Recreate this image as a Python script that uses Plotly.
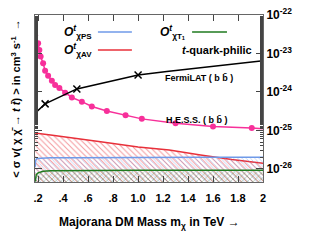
import plotly.graph_objects as go

# data
mass_av = [0.176, 0.19, 0.3, 0.5, 0.7, 1.0, 1.25, 1.5, 1.75, 2.0]
sv_av = [7.9e-26, 8.5e-26, 7.6e-26, 6.3e-26, 5.1e-26, 3.7e-26, 3.1e-26, 2.3e-26, 1.75e-26, 1.41e-26]

mass_ps = [0.176, 0.18, 0.19, 0.22, 0.3, 0.5, 1.0, 1.5, 2.0]
sv_ps = [1.12e-26, 1.66e-26, 1.86e-26, 1.9e-26, 1.95e-26, 1.95e-26, 2.0e-26, 2.0e-26, 2.0e-26]

mass_t1 = [0.177, 0.185, 0.2, 0.24, 0.3, 0.5, 1.0, 1.5, 2.0]
sv_t1 = [4.7e-27, 7.1e-27, 7.9e-27, 8.7e-27, 8.9e-27, 9.1e-27, 9.3e-27, 9.3e-27, 9.3e-27]

mass_hess = [0.176, 0.2, 0.21, 0.22, 0.24, 0.256, 0.28, 0.31, 0.336, 0.37, 0.416,
             0.47, 0.55, 0.63, 0.75, 0.9, 1.03, 1.3, 1.6, 1.91, 2.0]
sv_hess = [3.0e-23, 1.86e-23, 1.23e-23, 8.3e-24, 5.6e-24, 3.55e-24, 2.63e-24, 1.95e-24,
           1.51e-24, 1.26e-24, 9.5e-25, 7.2e-25, 5.6e-25, 4.2e-25, 3.2e-25, 2.5e-25,
           2.0e-25, 1.55e-25, 1.26e-25, 1.15e-25, 1.1e-25]

mass_fermi = [0.176, 0.256, 0.51, 1.0, 1.23, 2.0]
sv_fermi = [2.82e-25, 4.9e-25, 1.2e-24, 2.75e-24, 3.4e-24, 6.5e-24]
fermi_marks = [0.256, 0.51, 1.0]

x_ticks = [0.2, 0.4, 0.6, 0.8, 1.0, 1.2, 1.4, 1.6, 1.8, 2.0]
x_labels = ['.2', '.4', '.6', '.8', '1.0', '1.2', '1.4', '1.6', '1.8', '2']
y_ticks = [1e-26, 1e-25, 1e-24, 1e-23, 1e-22]
y_labels = ['10<sup>-26</sup>', '10<sup>-25</sup>', '10<sup>-24</sup>',
            '10<sup>-23</sup>', '10<sup>-22</sup>']

floor = 1e-28
fnt = 'Liberation Sans'

fig = go.Figure()

def band(xs, ys, color, shape, size):
    # invisible floor, then the curve filled down to it
    fig.add_trace(go.Scatter(x=[xs[0], xs[-1]], y=[floor, floor], mode='lines',
                             line=dict(width=0), showlegend=False, hoverinfo='skip'))
    fig.add_trace(go.Scatter(x=xs, y=ys, mode='lines', fill='tonexty',
                             fillcolor='rgba(0,0,0,0)',
                             fillpattern=dict(shape=shape, fgcolor=color, bgcolor='rgba(0,0,0,0)',
                                              size=size, solidity=0.25),
                             line=dict(color=color, width=1.5), showlegend=False))

band(mass_av, sv_av, '#e8303a', '\\', 4)
band(mass_ps, sv_ps, '#6f9ae8', '\\', 3)
band(mass_t1, sv_t1, '#1f7a1f', 'x', 4)

fig.add_trace(go.Scatter(x=mass_hess, y=sv_hess, mode='lines',
                         line=dict(color='#f7309a', width=1.5), showlegend=False))
fig.add_trace(go.Scatter(x=mass_hess[:-1], y=sv_hess[:-1], mode='markers',
                         marker=dict(color='#f7309a', size=6), showlegend=False))

fig.add_trace(go.Scatter(x=mass_fermi, y=sv_fermi, mode='lines',
                         line=dict(color='black', width=1.5), showlegend=False))
fig.add_trace(go.Scatter(x=fermi_marks, y=[sv_fermi[mass_fermi.index(m)] for m in fermi_marks],
                         mode='markers',
                         marker=dict(symbol='x-thin', size=7, line=dict(color='black', width=1.5)),
                         showlegend=False))

# legend lines
for x0, x1, y, c in [(0.276, 0.425, 0.898, '#6f9ae8'), (0.276, 0.425, 0.79, '#e8303a'),
                     (0.689, 0.842, 0.898, '#1f7a1f')]:
    fig.add_shape(type='line', xref='paper', yref='paper', x0=x0, x1=x1, y0=y, y1=y,
                  line=dict(color=c, width=1.5))

small = "<span style='font-size:8px'>"
notes = [
    (0.118, 0.898, "<i>O</i><sup><i>t</i></sup><sub>χ" + small + "PS</span></sub>", 12),
    (0.118, 0.79, "<i>O</i><sup><i>t</i></sup><sub>χ" + small + "AV</span></sub>", 12),
    (0.538, 0.898, "<i>O</i><sup><i>t</i></sup><sub>χ" + small + "T<sub>1</sub></span></sub>", 12),
    (0.638, 0.79, "<i>t</i>-quark-philic", 11),
    (0.563, 0.623, "FermiLAT ( b b̄ )", 9),
    (0.566, 0.371, "H.E.S.S. ( b b̄ )", 9),
]
for x, y, t, s in notes:
    fig.add_annotation(x=x, y=y, xref='paper', yref='paper', text='<b>' + t + '</b>',
                       xanchor='left', yanchor='middle',
                       showarrow=False, font=dict(size=s, family=fnt, color='black'))

fig.add_annotation(x=-0.087, y=0.5, xref='paper', yref='paper', textangle=-90,
                   xanchor='center', yanchor='middle',
                   text='<b>< σ v( χ χ̄ → <i>t</i> <i>t̄</i>) > in cm<sup>3</sup> s<sup>-1</sup>  →</b>',
                   showarrow=False, font=dict(size=11, family=fnt, color='black'))
fig.add_annotation(x=0.5, y=-0.245, xref='paper', yref='paper',
                   xanchor='center', yanchor='middle',
                   text='<b>Majorana DM Mass m<sub>χ</sub> in TeV →</b>',
                   showarrow=False, font=dict(size=12, family=fnt, color='black'))

fig.update_layout(
    width=334, height=250,
    margin=dict(l=35, r=71, t=15, b=68),
    plot_bgcolor='white', paper_bgcolor='white',
    font=dict(family=fnt, color='black'),
    xaxis=dict(range=[0.175, 2.0], tickvals=x_ticks, ticktext=['<b>' + l + '</b>' for l in x_labels],
               ticks='inside', ticklen=6, mirror='allticks', showline=True, linecolor='#666',
               linewidth=1, showgrid=False, zeroline=False, tickfont=dict(size=11),
               ticklabelstandoff=6, automargin=False),
    yaxis=dict(type='log', range=[-26.34, -21.999], side='right', tickvals=y_ticks,
               ticktext=['<b>' + l + '</b>' for l in y_labels],
               ticks='inside', ticklen=7, mirror='allticks', showline=True, linecolor='#666',
               linewidth=1, showgrid=False, zeroline=False, tickfont=dict(size=12),
               automargin=False,
               minor=dict(ticks='inside', ticklen=3, showgrid=False)),
)

# drop the page's default body margin so the figure sits at the window's corner
fig.write_html("out.html", config={'displayModeBar': False},
               post_script="document.body.style.margin = '0px';")
